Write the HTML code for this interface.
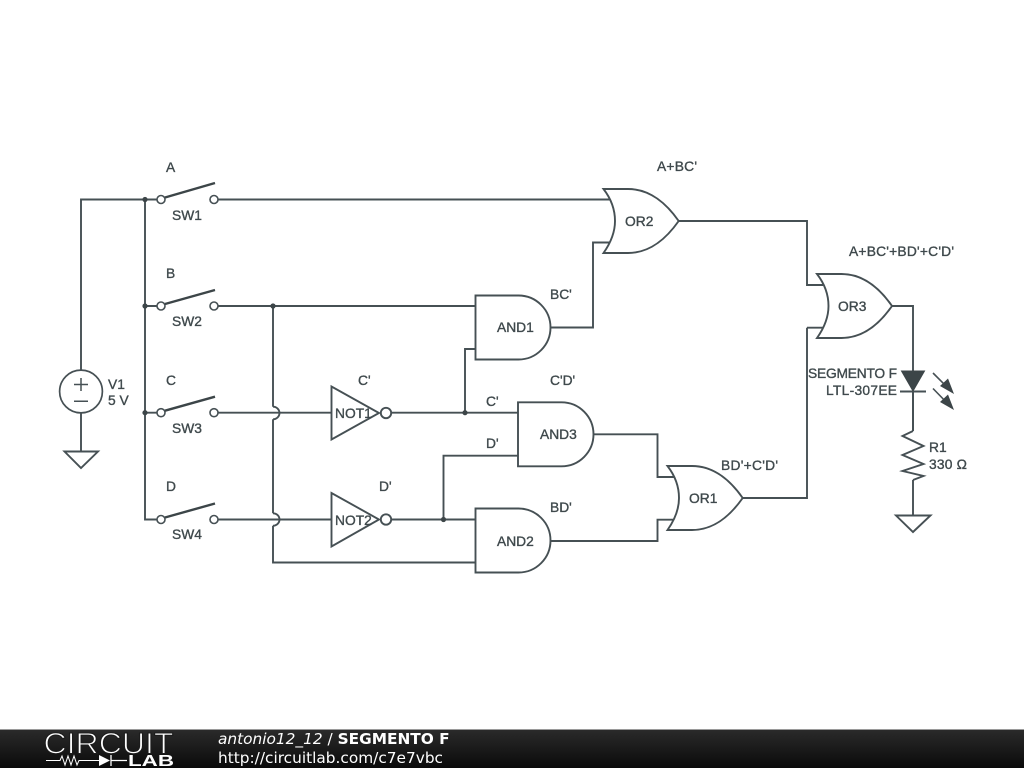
<!DOCTYPE html>
<html>
<head>
<meta charset="utf-8">
<style>
html,body{margin:0;padding:0;background:#fff;width:1024px;height:768px;overflow:hidden}
svg{display:block;position:absolute;left:0;top:0}
.w{fill:none;stroke:#465054;stroke-width:1.9}
.t{font-family:"Liberation Sans",sans-serif;font-size:13.8px;fill:#3f494c;stroke:#3f494c;stroke-width:.35}
.e{text-anchor:end}
.f{font-family:"DejaVu Sans",sans-serif;font-size:15.35px;fill:#fff}
</style>
</head>
<body>
<svg width="1024" height="768" viewBox="0 0 1024 768" xmlns="http://www.w3.org/2000/svg">
<defs>
<linearGradient id="g" x1="0" y1="0" x2="0" y2="1"><stop offset="0" stop-color="#2b2b2b"/><stop offset="1" stop-color="#0a0a0a"/></linearGradient>
</defs>
<rect width="1024" height="768" fill="#fff"/>

<!-- wires -->
<g class="w">
<path d="M81 370V199.5H157M145 199.5V519.5H157M145 306H157M145 412.7H157"/>
<path d="M218 199.5H610M218 306H475.5M218 412.7H331.5M218 519.5H331.5"/>
<path d="M273 306V406.7M273 419.3V513.3M273 525.7V562.5H475.5"/>
<path d="M273 406.7A6.5 6.3 0 0 1 273 419.3M273 513.3A6.5 6.2 0 0 1 273 525.7" />
<path d="M391 412.7H518M465 412.7V349H475.5"/>
<path d="M391 519.5H475.5M443.5 519.5V455.7H518"/>
<path d="M551 327.5H593V242.5H611"/>
<path d="M679 221H807V285H823M807 327.7H823M807 327.7V498H743"/>
<path d="M593.5 434.3H657.5V477H675M551 541H657.5V519.7H675"/>
<path d="M892 306H913V431"/>
<path d="M81 412V451.5"/>
<path d="M913 480V515.5"/>
</g>

<!-- junctions -->
<g fill="#3c4548">
<circle cx="145" cy="199.5" r="2.6"/>
<circle cx="145" cy="306" r="2.6"/>
<circle cx="145" cy="412.7" r="2.6"/>
<circle cx="273" cy="306" r="2.6"/>
<circle cx="465" cy="412.7" r="2.6"/>
<circle cx="443.5" cy="519.5" r="2.6"/>
</g>

<!-- switches -->
<g fill="#fff" stroke="#465054" stroke-width="1.6">
<circle cx="161" cy="199.5" r="4"/><circle cx="214" cy="199.5" r="4"/>
<circle cx="161" cy="306" r="4"/><circle cx="214" cy="306" r="4"/>
<circle cx="161" cy="412.7" r="4"/><circle cx="214" cy="412.7" r="4"/>
<circle cx="161" cy="519.5" r="4"/><circle cx="214" cy="519.5" r="4"/>
</g>
<g fill="none" stroke="#3c4548" stroke-width="2.4">
<path d="M165 197.5L215 183"/>
<path d="M165 304L215 290"/>
<path d="M165 410.7L215 396.7"/>
<path d="M165 517.5L215 503.5"/>
</g>

<!-- V1 -->
<circle cx="81" cy="391.5" r="21.4" fill="#fff" stroke="#465054" stroke-width="1.7"/>
<path fill="none" stroke="#465054" stroke-width="1.5" d="M74 384.5H88M81 378V391M74 401.3H88"/>
<path class="w" d="M64.5 451.5H98L81 468Z" style="fill:#fff"/>

<!-- NOT gates -->
<path class="w" d="M331.5 386.5V439.5L379 413Z"/>
<circle class="w" cx="386" cy="413" r="5.2" style="fill:#fff"/>
<path class="w" d="M331.5 493V546.5L379 519.5Z"/>
<circle class="w" cx="386" cy="519.5" r="5.2" style="fill:#fff"/>

<!-- AND gates -->
<path class="w" d="M475.5 295.5H518.5A32 32 0 0 1 518.5 359.5H475.5Z" style="fill:#fff"/>
<path class="w" d="M518 402.3H561.5A32 32 0 0 1 561.5 466.3H518Z" style="fill:#fff"/>
<path class="w" d="M475.5 508.5H518.5A32 32 0 0 1 518.5 572.5H475.5Z" style="fill:#fff"/>

<!-- OR gates -->
<path class="w" style="fill:#fff" d="M603.5 189H628C650 189 666 203 678.7 221C666 239 650 253 628 253H603.5C612 241 615 231 615 221C615 211 612 200 603.5 189Z"/>
<path class="w" style="fill:#fff" d="M817 274H841.5C863.5 274 879.5 288 892 306C879.5 324 863.5 338 841.5 338H817C825.5 326 828.5 316 828.5 306C828.5 296 825.5 285 817 274Z"/>
<path class="w" style="fill:#fff" d="M667.5 466H692C714 466 730 480 742.7 498C730 516 714 530 692 530H667.5C676 518 679 508 679 498C679 488 676 477 667.5 466Z"/>

<!-- LED -->
<path d="M901.5 371H924.5L913 391Z" fill="#3c4548" stroke="#3c4548" stroke-width="1"/>
<path class="w" d="M900 391.5H926M913 391V431"/>
<g fill="none" stroke="#465054" stroke-width="1.6">
<path d="M933 373L951 391"/>
<path d="M933 388.5L951 407"/>
</g>
<path d="M954 394L948 378.5L940 386Z" fill="#3c4548"/>
<path d="M954 410L948 394.5L940 402Z" fill="#3c4548"/>

<!-- resistor -->
<path class="w" d="M913 431L902.5 436L923.5 446L902.5 455L923.5 464L902.5 471L923.5 476L913 480"/>
<!-- ground -->
<path class="w" d="M896 515.5H930.5L913 532Z" style="fill:#fff"/>

<!-- labels -->
<g class="t">
<text x="166" y="172">A</text>
<text x="172" y="220">SW1</text>
<text x="166" y="278">B</text>
<text x="172" y="326">SW2</text>
<text x="166" y="385">C</text>
<text x="172" y="433">SW3</text>
<text x="166" y="491">D</text>
<text x="172" y="539">SW4</text>
<text x="108" y="389">V1</text>
<text x="108" y="405">5 V</text>
<text x="358" y="385">C'</text>
<text x="379" y="491">D'</text>
<text x="335" y="418">NOT1</text>
<text x="335" y="525">NOT2</text>
<text x="486" y="406">C'</text>
<text x="486" y="448">D'</text>
<text x="550" y="299">BC'</text>
<text x="550" y="385">C'D'</text>
<text x="550" y="512">BD'</text>
<text x="721" y="470" textLength="57">BD'+C'D'</text>
<text x="657" y="171" textLength="40">A+BC'</text>
<text x="849" y="256" textLength="105">A+BC'+BD'+C'D'</text>
<text x="625" y="226">OR2</text>
<text x="838" y="311">OR3</text>
<text x="689" y="503">OR1</text>
<text x="497" y="332">AND1</text>
<text x="540" y="439">AND3</text>
<text x="497" y="546">AND2</text>
<text x="808" y="378" textLength="89">SEGMENTO F</text>
<text x="826" y="395" textLength="71">LTL-307EE</text>
<text x="929" y="452">R1</text>
<text x="929" y="469" textLength="38">330 Ω</text>
</g>

<!-- footer -->
<rect x="0" y="729" width="1024" height="39" fill="url(#g)"/>
<rect x="0" y="729" width="1024" height="1" fill="#9a9a9a"/>
<text x="43.5" y="753.5" font-family="Liberation Sans, sans-serif" font-size="29.5" textLength="130" lengthAdjust="spacingAndGlyphs" fill="#fff" stroke="#1c1c1c" stroke-width="1.1">CIRCUIT</text>
<path d="M46 760.5H60L62 756L65 765L68 756L71 765L74 756L77 765L79 760.5H99" fill="none" stroke="#fff" stroke-width="1"/>
<path d="M99 755V766L110 760.5Z" fill="#fff"/>
<path d="M111 755V766M111 760.5H127" fill="none" stroke="#fff" stroke-width="1.3"/>
<text x="128" y="766" font-family="Liberation Sans, sans-serif" font-size="16" font-weight="bold" textLength="46" lengthAdjust="spacingAndGlyphs" fill="#fff">LAB</text>
<text class="f" x="218" y="744"><tspan font-style="italic">antonio12_12</tspan> / <tspan font-weight="bold">SEGMENTO F</tspan></text>
<text class="f" x="218" y="763">http://circuitlab.com/c7e7vbc</text>
</svg>
</body>
</html>
